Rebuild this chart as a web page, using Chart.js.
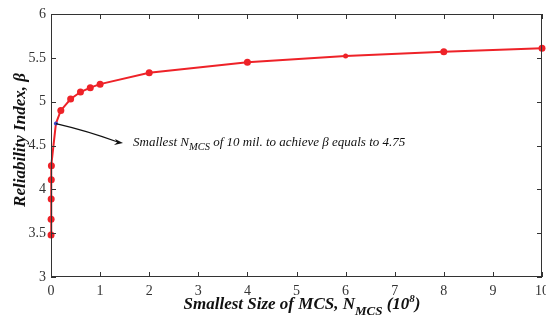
<!DOCTYPE html>
<html>
<head>
<meta charset="utf-8">
<script src="https://cdn.jsdelivr.net/npm/chart.js@4"></script>
<style>
  html, body { margin: 0; padding: 0; background: #fff; }
  #wrap { width: 546px; height: 328px; }
</style>
</head>
<body>
<div id="wrap"><canvas id="relChart" width="546" height="328"></canvas></div>
<script>
// N_MCS in units of 10^8 and reliability index beta
const nmcs = [0.001, 0.002, 0.004, 0.006, 0.008, 0.1, 0.2, 0.4, 0.6, 0.8, 1, 2, 4, 6, 8, 10];
const beta = [3.48, 3.66, 3.89, 4.11, 4.27, 4.75, 4.90, 5.03, 5.11, 5.16, 5.20, 5.33, 5.45, 5.52, 5.57, 5.61];
const xTicks = [0, 1, 2, 3, 4, 5, 6, 7, 8, 9, 10];
const yTicks = [3, 3.5, 4, 4.5, 5, 5.5, 6];
const noteX = 0.1, noteY = 4.75;

const serif = '"Liberation Serif", "DejaVu Serif", serif';
const red = 'rgb(238,34,40)';

const points = nmcs.map((x, i) => ({ x: x, y: beta[i] }));
const pointColors = nmcs.map(x => x === noteX ? 'rgb(60,70,200)' : red);
const pointSizes = nmcs.map(x => x === noteX ? 2 : (x === 6 ? 2.5 : 3.5));

// draws text pieces with sub/superscripts, returns width
function richText(ctx, parts, x, y, measureOnly) {
    let cx = x;
    parts.forEach(p => {
        ctx.font = p.font;
        const w = ctx.measureText(p.t).width;
        if (!measureOnly) ctx.fillText(p.t, cx, y + (p.dy || 0));
        cx += w;
    });
    return cx - x;
}

const decorations = {
    id: 'decorations',
    afterDraw(chart) {
        const ctx = chart.ctx;
        const a = chart.chartArea;
        const xs = chart.scales.x, ys = chart.scales.y;
        ctx.save();
        // box
        ctx.strokeStyle = '#333';
        ctx.lineWidth = 1;
        ctx.strokeRect(a.left + 0.5, a.top + 0.5, a.right - a.left - 1, a.bottom - a.top - 1);
        // inside ticks on all four sides
        ctx.beginPath();
        xTicks.forEach(v => {
            const px = Math.round(xs.getPixelForValue(v)) + 0.5;
            ctx.moveTo(px, a.bottom); ctx.lineTo(px, a.bottom - 5);
            ctx.moveTo(px, a.top); ctx.lineTo(px, a.top + 5);
        });
        yTicks.forEach(v => {
            const py = Math.round(ys.getPixelForValue(v)) + 0.5;
            ctx.moveTo(a.left, py); ctx.lineTo(a.left + 5, py);
            ctx.moveTo(a.right, py); ctx.lineTo(a.right - 5, py);
        });
        ctx.stroke();

        // annotation arrow
        const sx = xs.getPixelForValue(noteX), sy = ys.getPixelForValue(noteY);
        const ex = 123, ey = 143;
        ctx.strokeStyle = '#111';
        ctx.lineWidth = 1.2;
        ctx.beginPath();
        ctx.moveTo(sx, sy);
        ctx.quadraticCurveTo(88, 131, ex - 6, ey - 1.2);
        ctx.stroke();
        ctx.fillStyle = '#111';
        ctx.beginPath();
        ctx.moveTo(ex, ey);
        ctx.lineTo(ex - 8, ey - 4);
        ctx.lineTo(ex - 6, ey - 0.5);
        ctx.lineTo(ex - 9, ey + 2);
        ctx.closePath();
        ctx.fill();

        // annotation text
        ctx.fillStyle = '#111';
        ctx.textBaseline = 'alphabetic';
        ctx.textAlign = 'left';
        const fi = 'italic 13px ' + serif;
        const fs = 'italic 10.5px ' + serif;
        richText(ctx, [
            { t: 'Smallest N', font: fi },
            { t: 'MCS', font: fs, dy: 4 },
            { t: ' of 10 mil. to achieve \u03B2 equals to 4.75', font: fi }
        ], 133, 146);

        // x axis title
        const fb = 'italic bold 17px ' + serif;
        const fbs = 'italic bold 13px ' + serif;
        const xParts = [
            { t: 'Smallest Size of MCS, N', font: fb },
            { t: 'MCS', font: fbs, dy: 6 },
            { t: ' (10', font: fb },
            { t: '8', font: 'italic bold 11px ' + serif, dy: -7 },
            { t: ')', font: fb }
        ];
        const xw = richText(ctx, xParts, 0, 0, true);
        richText(ctx, xParts, 302 - xw / 2, 309);

        // y axis title
        ctx.translate(25, 140);
        ctx.rotate(-Math.PI / 2);
        const yParts = [{ t: 'Reliability Index, \u03B2', font: fb }];
        const yw = richText(ctx, yParts, 0, 0, true);
        richText(ctx, yParts, -yw / 2, 0);
        ctx.restore();
    }
};

new Chart(document.getElementById('relChart'), {
    type: 'scatter',
    data: {
        datasets: [{
            data: points,
            showLine: true,
            clip: false,
            borderColor: red,
            borderWidth: 2,
            backgroundColor: pointColors,
            pointBackgroundColor: pointColors,
            pointBorderColor: pointColors,
            pointRadius: pointSizes,
            pointBorderWidth: 0,
            tension: 0
        }]
    },
    options: {
        responsive: false,
        animation: false,
        layout: { padding: { top: 14, right: 4, left: 0, bottom: 0 } },
        plugins: { legend: { display: false }, tooltip: { enabled: false } },
        scales: {
            x: {
                type: 'linear', min: 0, max: 10,
                afterFit: s => { s.height = 51; s.paddingLeft = 0; s.paddingRight = 0; },
                afterBuildTicks: s => { s.ticks = xTicks.map(v => ({ value: v })); },
                grid: { display: false, drawTicks: false },
                border: { display: false },
                ticks: { color: '#333', padding: 6, maxRotation: 0, callback: v => String(v), font: { family: serif, size: 14 } }
            },
            y: {
                type: 'linear', min: 3, max: 6,
                afterFit: s => { s.width = 51; s.paddingTop = 0; s.paddingBottom = 0; },
                afterBuildTicks: s => { s.ticks = yTicks.map(v => ({ value: v })); },
                grid: { display: false, drawTicks: false },
                border: { display: false },
                ticks: { color: '#333', padding: 5, callback: v => String(v), font: { family: serif, size: 14 } }
            }
        }
    },
    plugins: [decorations]
});
</script>
</body>
</html>
